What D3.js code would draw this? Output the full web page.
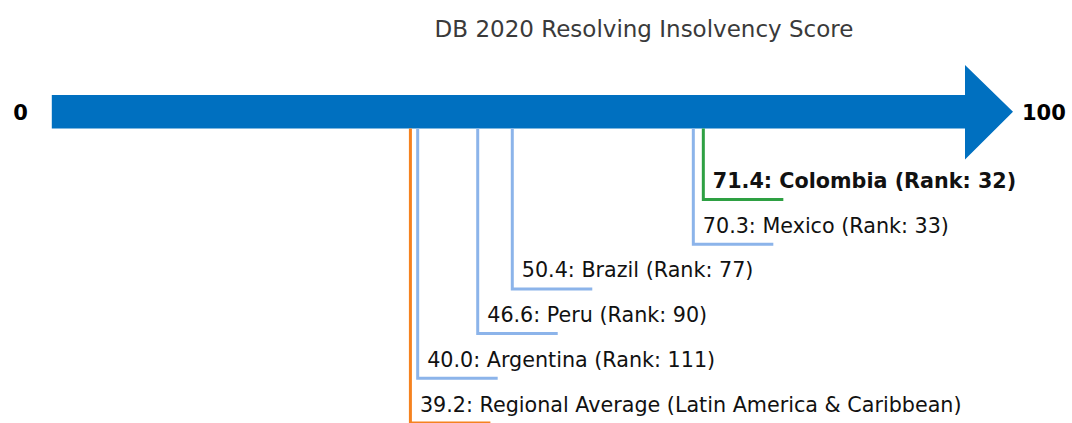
<!DOCTYPE html>
<html>
<head>
<meta charset="utf-8">
<script src="https://cdn.jsdelivr.net/npm/d3@7"></script>
<style>
  html, body { margin: 0; padding: 0; background: #fff; }
  svg { display: block; font-family: "DejaVu Sans", sans-serif; }
</style>
</head>
<body>
<svg id="chart" width="1072" height="423"></svg>
<script>
// Resolving Insolvency scores (0-100) with Doing Business 2020 ranks
const economies = ["Colombia", "Mexico", "Brazil", "Peru", "Argentina", "Regional Average (Latin America & Caribbean)"];
const scores = [71.4, 70.3, 50.4, 46.6, 40.0, 39.2];
const ranks = [32, 33, 77, 90, 111, null];
const roles = ["focus", "peer", "peer", "peer", "peer", "region"];
const scaleEnds = [0, 100];
const title = "DB 2020 Resolving Insolvency Score";

const W = 1072, H = 423;
const svg = d3.select("#chart");

const colorByRole = { focus: "#2ea043", peer: "#8cb4ea", region: "#f5821f" };

const x = d3.scaleLinear().domain(scaleEnds).range([53.8, 963.5]);
const levels = d3.scalePoint().domain(d3.range(economies.length)).range([199.5, 423]);

const shaftTop = 95, shaftBottom = 128.5, shaftMid = (shaftTop + shaftBottom) / 2;

// Title
svg.append("text")
  .attr("x", 644).attr("y", 36.5)
  .attr("text-anchor", "middle")
  .attr("font-size", 23)
  .attr("fill", "#3a3a3a")
  .text(title);

// Arrow axis
const x0 = x(scaleEnds[0]) - 2, xb = x(scaleEnds[1]) + 1.5, xt = xb + 48;
svg.append("path")
  .attr("d", `M${x0},${shaftTop} L${xb},${shaftTop} L${xb},65 L${xt},${shaftMid} L${xb},159.5 L${xb},${shaftBottom} L${x0},${shaftBottom} Z`)
  .attr("fill", "#0070c0");

// End labels
svg.append("text")
  .attr("x", 20.5).attr("y", shaftMid + 8)
  .attr("text-anchor", "middle")
  .attr("font-size", 21).attr("font-weight", "bold")
  .attr("fill", "#000")
  .text(scaleEnds[0]);
svg.append("text")
  .attr("x", 1022).attr("y", shaftMid + 8)
  .attr("font-size", 21).attr("font-weight", "bold")
  .attr("fill", "#000")
  .text(scaleEnds[1]);

// Leader lines and labels
const items = economies.map((name, i) => ({ name, score: scores[i], rank: ranks[i], role: roles[i], i }));

const g = svg.append("g").selectAll("g").data(items).join("g");

g.append("path")
  .attr("d", d => {
    const px = x(d.score), py = levels(d.i);
    return `M${px},${shaftBottom} L${px},${py} L${px + 80},${py}`;
  })
  .attr("fill", "none")
  .attr("stroke", d => colorByRole[d.role])
  .attr("stroke-width", 3);

g.append("text")
  .attr("x", d => x(d.score) + 9.5)
  .attr("y", d => levels(d.i) - 11.5)
  .attr("font-size", 20.7)
  .attr("font-weight", d => d.role === "focus" ? "bold" : "normal")
  .attr("fill", "#111")
  .text(d => `${d.score.toFixed(1)}: ${d.name}` + (d.rank != null ? ` (Rank: ${d.rank})` : ""));
</script>
</body>
</html>
